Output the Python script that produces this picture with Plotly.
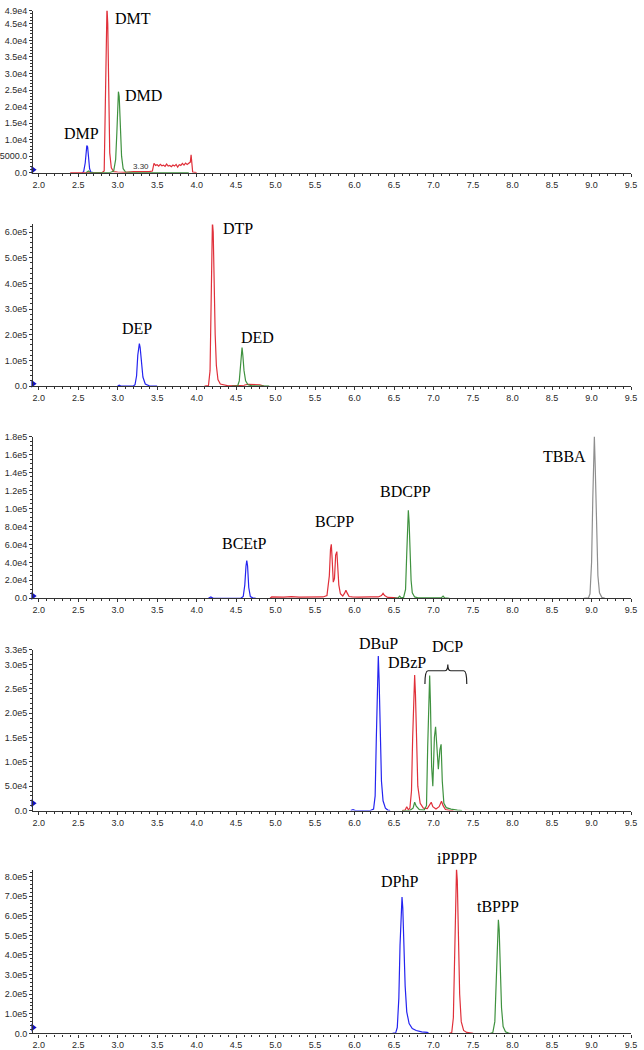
#Chromatograms - 5 stacked panels of organophosphate diesters, TIC style plots
import plotly.graph_objects as go

blue = '#2424f0'
red = '#e0303a'
green = '#3f923f'
gray = '#8e8e8e'

# ---- panel 1 ----
dmp_time = [2.55, 2.57, 2.59, 2.60, 2.61, 2.62, 2.63, 2.645, 2.66, 2.69]
dmp_abund = [0, 300, 3000, 6500, 8200, 7800, 4000, 1200, 200, 0]
dmt_time = [2.40, 2.80, 2.83, 2.845, 2.855, 2.865, 2.875, 2.885, 2.90, 2.92, 2.95, 3.0, 3.1, 3.2, 3.3, 3.4, 3.44,
            3.46, 3.48, 3.50, 3.52, 3.54, 3.56, 3.58, 3.60, 3.62, 3.64, 3.66, 3.68, 3.70, 3.72, 3.74, 3.76, 3.78,
            3.80, 3.82, 3.84, 3.86, 3.88, 3.90, 3.92, 3.93, 3.94, 3.95, 4.0]
dmt_abund = [0, 0, 500, 20000, 42000, 50000, 45000, 22000, 6000, 1500, 300, 200, 100, 300, 200, 300, 500,
             2800, 2200, 2400, 2000, 2500, 2100, 2300, 1900, 2600, 2000, 2200, 1800, 2300, 2000, 2500, 1700, 2400,
             2200, 2800, 2300, 2900, 2500, 3000, 3200, 5400, 3000, 200, 0]
dmd_time = [2.60, 2.63, 2.66, 2.90, 2.95, 2.975, 2.99, 3.0, 3.01, 3.02, 3.035, 3.05, 3.07, 3.10, 3.2, 3.5, 3.9]
dmd_abund = [0, 500, 0, 0, 500, 4000, 12000, 21000, 24500, 23000, 14000, 5000, 1200, 200, 0, 0, 0]

# ---- panel 2 ----
dep_time = [3.0, 3.02, 3.04, 3.2, 3.22, 3.24, 3.255, 3.265, 3.275, 3.285, 3.30, 3.32, 3.35, 3.40, 3.5]
dep_abund = [0, 3000, 0, 0, 5000, 40000, 120000, 160000, 165000, 150000, 90000, 35000, 8000, 1000, 0]
dtp_time = [4.10, 4.15, 4.17, 4.18, 4.19, 4.20, 4.21, 4.22, 4.235, 4.25, 4.27, 4.30, 4.35, 4.40, 4.50,
            4.60, 4.65, 4.70, 4.75, 4.80, 4.85]
dtp_abund = [0, 2000, 60000, 290000, 500000, 640000, 600000, 420000, 200000, 80000, 25000, 8000, 3000, 1000,
             2000, 3000, 7000, 6000, 7000, 5000, 0]
ded_time = [4.45, 4.52, 4.54, 4.555, 4.565, 4.575, 4.585, 4.60, 4.62, 4.65, 4.70, 4.8, 4.9, 4.92]
ded_abund = [0, 1000, 20000, 90000, 140000, 150000, 120000, 60000, 20000, 5000, 1000, 500, 2000, 0]

# ---- panel 3 ----
bcetp_time = [4.15, 4.18, 4.21, 4.56, 4.59, 4.61, 4.625, 4.635, 4.645, 4.66, 4.68, 4.71, 4.75]
bcetp_abund = [0, 1500, 0, 0, 2000, 15000, 36000, 42000, 36000, 12000, 2000, 500, 0]
bcpp_time = [4.93, 4.95, 5.1, 5.2, 5.3, 5.4, 5.5, 5.6, 5.65, 5.68, 5.695, 5.705, 5.715, 5.73, 5.745, 5.76,
             5.775, 5.785, 5.80, 5.82, 5.85, 5.875, 5.89, 5.905, 5.93, 5.97, 6.05, 6.2, 6.3, 6.34, 6.36, 6.38,
             6.42, 6.5, 6.55]
bcpp_abund = [0, 1500, 1200, 1800, 1300, 1500, 1200, 1500, 3000, 25000, 55000, 60000, 45000, 18000, 22000,
              48000, 52000, 40000, 15000, 5000, 2500, 6000, 9000, 6000, 2000, 1500, 1200, 1500, 1500, 3000,
              5500, 3000, 1000, 800, 0]
bdcpp_time = [6.50, 6.55, 6.57, 6.59, 6.62, 6.645, 6.66, 6.67, 6.68, 6.69, 6.70, 6.715, 6.73, 6.76, 6.80,
              7.0, 7.1, 7.12, 7.14, 7.2]
bdcpp_abund = [0, 500, 2500, 500, 1000, 10000, 50000, 88000, 98000, 85000, 55000, 20000, 6000, 1500, 500,
               300, 800, 2500, 500, 0]
tbba_time = [8.90, 8.96, 8.98, 9.0, 9.015, 9.025, 9.035, 9.045, 9.06, 9.08, 9.10, 9.13, 9.17]
tbba_abund = [0, 500, 5000, 40000, 110000, 165000, 180000, 150000, 80000, 25000, 6000, 1000, 0]

# ---- panel 4 ----
dbup_time = [5.95, 5.98, 6.01, 6.20, 6.24, 6.26, 6.275, 6.29, 6.30, 6.31, 6.325, 6.34, 6.36, 6.39, 6.42, 6.45]
dbup_abund = [0, 2000, 0, 0, 3000, 30000, 150000, 290000, 317000, 270000, 150000, 60000, 20000, 5000, 1000, 0]
dbzp_time = [6.60, 6.64, 6.66, 6.68, 6.70, 6.72, 6.735, 6.75, 6.76, 6.77, 6.785, 6.80, 6.83, 6.87, 6.92,
             6.95, 6.97, 6.99, 7.03, 7.07, 7.10, 7.12, 7.15, 7.2, 7.25]
dbzp_abund = [0, 1000, 8000, 1500, 5000, 40000, 150000, 260000, 278000, 240000, 130000, 50000, 15000, 5000,
              4000, 12000, 17000, 8000, 3000, 8000, 19000, 10000, 2000, 500, 0]
dcp_time = [6.60, 6.70, 6.74, 6.76, 6.78, 6.82, 6.88, 6.91, 6.925, 6.94, 6.95, 6.96, 6.975, 6.99, 7.01, 7.025,
            7.04, 7.06, 7.08, 7.095, 7.11, 7.13, 7.16, 7.22, 7.30, 7.36]
dcp_abund = [0, 500, 5000, 17000, 9000, 2000, 1000, 10000, 130000, 260000, 277000, 220000, 90000, 50000,
             150000, 172000, 130000, 85000, 125000, 136000, 60000, 15000, 6000, 3000, 1000, 0]

# ---- panel 5 ----
dphp_time = [6.48, 6.52, 6.54, 6.56, 6.575, 6.59, 6.60, 6.61, 6.625, 6.64, 6.66, 6.69, 6.73, 6.78, 6.85, 6.92, 6.94]
dphp_abund = [0, 3000, 30000, 180000, 450000, 670000, 695000, 640000, 430000, 240000, 110000, 50000, 25000,
              15000, 8000, 5000, 0]
ipppp_time = [7.20, 7.23, 7.25, 7.265, 7.28, 7.29, 7.30, 7.315, 7.33, 7.35, 7.38, 7.42, 7.48, 7.50]
ipppp_abund = [0, 5000, 80000, 450000, 800000, 840000, 780000, 500000, 200000, 60000, 15000, 5000, 2000, 0]
tbppp_time = [7.72, 7.75, 7.775, 7.795, 7.81, 7.82, 7.83, 7.845, 7.86, 7.88, 7.91, 7.95, 7.97]
tbppp_abund = [0, 5000, 60000, 300000, 540000, 580000, 530000, 330000, 130000, 35000, 8000, 1500, 0]

# y axis ticks per panel
y_ranges = [[0, 49000], [0, 630000], [0, 180000], [0, 330000], [0, 835000]]
y_tickvals = [
    [0, 5000, 10000, 15000, 20000, 25000, 30000, 35000, 40000, 45000, 49000],
    [0, 100000, 200000, 300000, 400000, 500000, 600000],
    [0, 20000, 40000, 60000, 80000, 100000, 120000, 140000, 160000, 180000],
    [0, 50000, 100000, 150000, 200000, 250000, 300000, 330000],
    [0, 100000, 200000, 300000, 400000, 500000, 600000, 700000, 800000],
]
y_ticktext = [
    ['0.0', '5000.0', '1.0e4', '1.5e4', '2.0e4', '2.5e4', '3.0e4', '3.5e4', '4.0e4', '4.5e4', '4.9e4'],
    ['0.0', '1.0e5', '2.0e5', '3.0e5', '4.0e5', '5.0e5', '6.0e5'],
    ['0.0', '2.0e4', '4.0e4', '6.0e4', '8.0e4', '1.0e5', '1.2e5', '1.4e5', '1.6e5', '1.8e5'],
    ['0.0', '5.0e4', '1.0e5', '1.5e5', '2.0e5', '2.5e5', '3.0e5', '3.3e5'],
    ['0.0', '1.0e5', '2.0e5', '3.0e5', '4.0e5', '5.0e5', '6.0e5', '7.0e5', '8.0e5'],
]
y_minor = [1000, 20000, 5000, 10000, 20000]
x_tickvals = [2.0, 2.5, 3.0, 3.5, 4.0, 4.5, 5.0, 5.5, 6.0, 6.5, 7.0, 7.5, 8.0, 8.5, 9.0, 9.5]

# pixel top / bottom of each plot area (page is 1050 tall)
panel_px = [(5.7, 169.3), (221.5, 384.7), (435.7, 599.0), (651.0, 813.3), (873.0, 1038.3)]

# peak names: panel, label, time, abundance
peak_labels = [
    (1, 'DMT', 3.20, 46700), (1, 'DMD', 3.33, 23300), (1, 'DMP', 2.54, 11800),
    (2, 'DTP', 4.52, 615000), (2, 'DEP', 3.24, 223000), (2, 'DED', 4.77, 188000),
    (3, 'BCEtP', 4.60, 60800), (3, 'BCPP', 5.75, 85400), (3, 'BDCPP', 6.65, 119300), (3, 'TBBA', 8.66, 158000),
    (4, 'DBuP', 6.30, 343000), (4, 'DBzP', 6.66, 304000), (4, 'DCP', 7.18, 336000),
    (5, 'DPhP', 6.57, 775000), (5, 'iPPPP', 7.30, 893000), (5, 'tBPPP', 7.82, 648000),
]
# little blue start marker on each panel
start_marker_y = [900, 9000, 2500, 15000, 30000]

traces = [
    (1, dmp_time, dmp_abund, blue), (1, dmt_time, dmt_abund, red), (1, dmd_time, dmd_abund, green),
    (2, dep_time, dep_abund, blue), (2, dtp_time, dtp_abund, red), (2, ded_time, ded_abund, green),
    (3, bcetp_time, bcetp_abund, blue), (3, bcpp_time, bcpp_abund, red), (3, bdcpp_time, bdcpp_abund, green),
    (3, tbba_time, tbba_abund, gray),
    (4, dbup_time, dbup_abund, blue), (4, dbzp_time, dbzp_abund, red), (4, dcp_time, dcp_abund, green),
    (5, dphp_time, dphp_abund, blue), (5, ipppp_time, ipppp_abund, red), (5, tbppp_time, tbppp_abund, green),
]

fig = go.Figure()

for panel, t, a, col in traces:
    sfx = '' if panel == 1 else str(panel)
    fig.add_trace(go.Scatter(x=t, y=a, mode='lines', line=dict(color=col, width=1.2),
                             xaxis='x' + sfx, yaxis='y' + sfx, showlegend=False))

x_font = dict(family='Liberation Sans, Arial', size=9, color='#2a2a2a')
y_font = dict(family='Liberation Sans, Arial', size=9, color='#2a2a2a')
x_start = 1.93

for i in range(5):
    n = i + 1
    sfx = '' if n == 1 else str(n)
    top, bot = panel_px[i]
    fig.add_trace(go.Scatter(x=[x_start], y=[start_marker_y[i]], mode='markers',
                             marker=dict(symbol='triangle-right', size=7, color='#1010c0'),
                             cliponaxis=False, xaxis='x' + sfx, yaxis='y' + sfx, showlegend=False))
    fig.update_layout(**{
        'xaxis' + sfx: dict(domain=[31.5 / 644, 637 / 644], anchor='y' + sfx, range=[x_start, 9.5],
                            tickvals=x_tickvals, ticktext=['%.1f' % v for v in x_tickvals],
                            showgrid=False, zeroline=False, showline=True, linecolor='#333333', linewidth=1.3,
                            ticks='outside', ticklen=3, tickcolor='#333333', tickfont=x_font,
                            minor=dict(dtick=0.1, tick0=0, ticks='outside', ticklen=2, tickcolor='#333333'),
                            fixedrange=True),
        'yaxis' + sfx: dict(domain=[1 - bot / 1050, 1 - top / 1050], anchor='x' + sfx, range=y_ranges[i],
                            tickmode='array', tickvals=y_tickvals[i], ticktext=y_ticktext[i],
                            showgrid=False, zeroline=False, showline=True, linecolor='#333333', linewidth=1.3,
                            ticks='outside', ticklen=3, tickcolor='#333333', tickfont=y_font,
                            minor=dict(dtick=y_minor[i], tick0=0, ticks='outside', ticklen=2, tickcolor='#333333'),
                            fixedrange=True),
    })

annos = []
for panel, txt, t, a in peak_labels:
    sfx = '' if panel == 1 else str(panel)
    # y given as fraction of the panel height so labels above the axis top still show
    annos.append(dict(x=t, y=a / y_ranges[panel - 1][1], xref='x' + sfx, yref='y' + sfx + ' domain',
                      xanchor='center', yanchor='middle', text=txt, showarrow=False,
                      font=dict(family='Liberation Serif, Times New Roman', size=16, color='black')))
# retention time tag in the first panel
annos.append(dict(x=3.29, y=2000, xref='x', yref='y', text='3.30', showarrow=False,
                  xanchor='center', yanchor='middle',
                  font=dict(family='Liberation Sans, Arial', size=8, color='#333333')))

# curly bracket over the DCP isomers
fig.add_shape(type='path', xref='x4', yref='y4',
              path='M 6.89,260000 Q 6.89,287000 6.93,287000 L 7.14,287000 Q 7.18,287000 7.18,300000 '
                   'Q 7.18,287000 7.22,287000 L 7.38,287000 Q 7.42,287000 7.42,260000',
              line=dict(color='#222222', width=1.2))

fig.update_layout(width=644, height=1050, margin=dict(l=0, r=0, t=0, b=0),
                  plot_bgcolor='#FFFFFF', paper_bgcolor='#FFFFFF', annotations=annos)

# page body has a default 8px margin, drop it so the figure sits at the window corner
fig.write_html('out.html', config={'displayModeBar': False},
               post_script="document.body.style.margin='0px';")
